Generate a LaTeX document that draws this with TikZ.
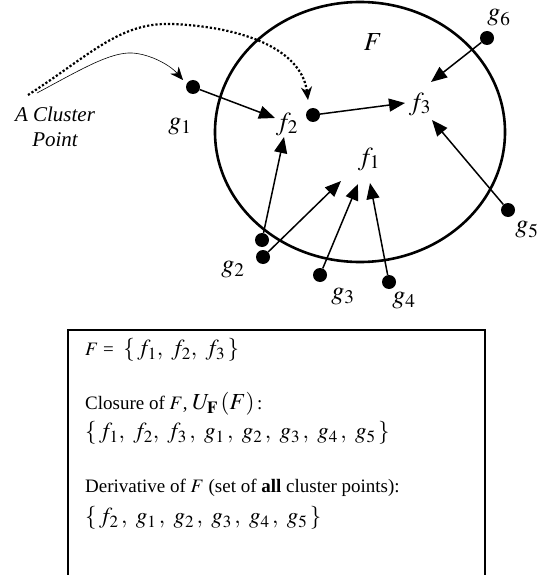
\documentclass[tikz,border=0pt]{standalone}
\usepackage{mathptmx}
\usepackage{fontspec}
\setmainfont{Liberation Serif}
\usepackage{tikz}
\usetikzlibrary{arrows.meta}

\newcommand{\setmath}[1]{{\fontsize{23}{26}\selectfont$#1$}}

\begin{document}
\begin{tikzpicture}[
    x=1pt, y=-1pt,
    dot/.style={circle, fill=black, inner sep=0pt, minimum size=14pt},
    lab/.style={inner sep=1pt, font=\fontsize{26}{28}\selectfont},
    arr/.style={line width=1.5pt, -{Triangle[length=16pt, width=13pt]}},
    line/.style={font=\fontsize{19}{22}\selectfont, anchor=west, inner sep=0pt}
]
\useasboundingbox (0,0) rectangle (541,575);

% The set F
\draw[line width=2.6pt] (360,132) ellipse [x radius=145, y radius=130];
\node[lab] (F) at (373,42) {$F$};
\node[lab] (f1) at (369,159) {$f_1$};
\node[lab] (f2) at (287,124) {$f_2$};
\node[lab] (f3) at (420,104) {$f_3$};

% Points
\node[dot] (g1) at (193,87) {};
\node[dot] (c) at (313,115) {};
\node[dot] (g6) at (487,38) {};
\node[dot] (g5) at (508,210) {};
\node[dot] (g2a) at (262,240) {};
\node[dot] (g2b) at (263,257) {};
\node[dot] (g3) at (320,275) {};
\node[dot] (g4) at (389,282) {};

\node[lab] (lg1) at (180,127) {$g_1$};
\node[lab] (lg2) at (233,270) {$g_2$};
\node[lab] (lg3) at (343,297) {$g_3$};
\node[lab] (lg4) at (404,301) {$g_4$};
\node[lab] (lg5) at (527,230) {$g_5$};
\node[lab] (lg6) at (499,18) {$g_6$};

% Arrow ends
\coordinate (e1) at (275,118);
\coordinate (e2) at (284,137);
\coordinate (e3) at (341,181);
\coordinate (e4) at (358,184);
\coordinate (e5) at (370,183);
\coordinate (e6) at (405,103);
\coordinate (e7) at (431,82);
\coordinate (e8) at (432,120);

\draw[arr] (g1) -- (e1);
\draw[arr] (g2a) -- (e2);
\draw[arr] (g2b) -- (e3);
\draw[arr] (g3) -- (e4);
\draw[arr] (g4) -- (e5);
\draw[arr] (c) -- (e6);
\draw[arr] (g6) -- (e7);
\draw[arr] (g5) -- (e8);

% Cluster point
\node[align=center, font=\fontsize{21}{25}\selectfont\itshape] (cp) at (55,127) {A Cluster\\Point};
\coordinate (s1) at (28,95);
\coordinate (s2) at (37,93);
\coordinate (d1) at (308,100);
\coordinate (d2) at (183,80);
\draw[line width=2.2pt, dotted, -{Stealth[length=13pt, width=11pt]}]
    (s1) .. controls (90,55) and (120,22) .. (172,24)
    .. controls (245,27) and (302,50) .. (d1);
\draw[line width=0.6pt, -{Stealth[length=13pt, width=11pt]}]
    (s2) .. controls (80,70) and (110,52) .. (132,53)
    .. controls (150,54) and (170,65) .. (d2);

% Box
\draw[line width=1.3pt] (68,580) -- (68,330) -- (485,330) -- (485,580);
\node[line] (t1) at (85,350) {$F$ =\ \ \setmath{\{\,f_1,\ f_2,\ f_3\,\}}};
\node[line] (t2) at (85,404) {Closure of $F$, \setmath{U_{\mathbf{F}}\,(F)\,}:};
\node[line] (t3) at (85,433) {\setmath{\{\,f_1,\ f_2,\ f_3\,,\ g_1\,,\ g_2\,,\ g_3\,,\ g_4\,,\ g_5\,\}}};
\node[line] (t4) at (85,488) {Derivative of $F$ (set of \textbf{all} cluster points):};
\node[line] (t5) at (85,518) {\setmath{\{\,f_2\,,\ g_1\,,\ g_2\,,\ g_3\,,\ g_4\,,\ g_5\,\}}};
\end{tikzpicture}
\end{document}
